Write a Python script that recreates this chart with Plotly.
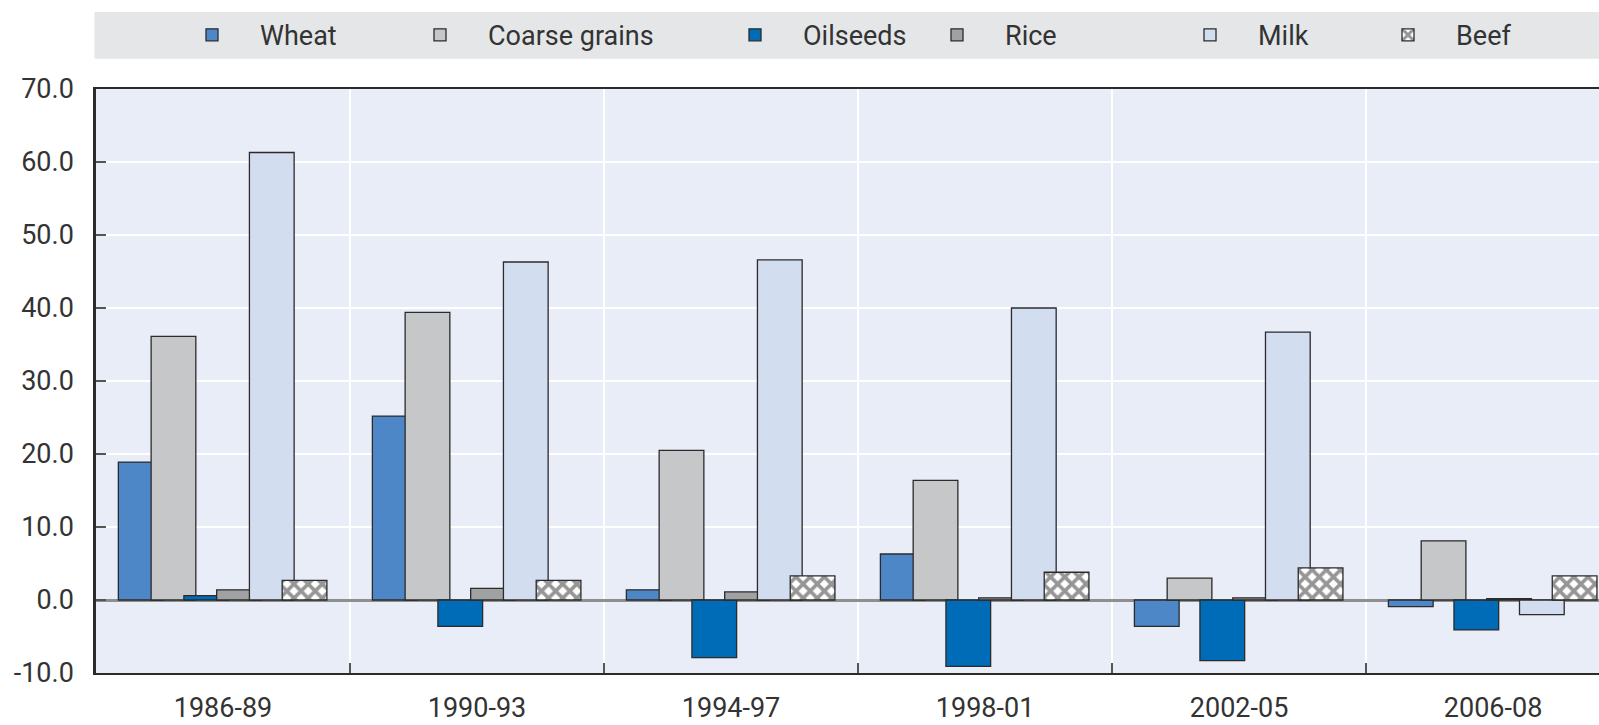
import plotly.graph_objects as go

periods = ["1986-89", "1990-93", "1994-97", "1998-01", "2002-05", "2006-08"]
wheat = [18.9, 25.2, 1.4, 6.3, -3.6, -0.9]
coarse_grains = [36.1, 39.4, 20.5, 16.4, 3.0, 8.1]
oilseeds = [0.6, -3.6, -7.9, -9.1, -8.3, -4.1]
rice = [1.4, 1.6, 1.1, 0.3, 0.3, 0.2]
milk = [61.3, 46.3, 46.6, 40.0, 36.7, -2.0]
beef = [2.7, 2.7, 3.3, 3.8, 4.4, 3.3]
y_ticks = [-10, 0, 10, 20, 30, 40, 50, 60, 70]
y_tick_labels = ["-10.0", "0.0", "10.0", "20.0", "30.0", "40.0", "50.0", "60.0", "70.0"]

series = [
    ("Wheat", wheat, "#4D87C7", None),
    ("Coarse grains", coarse_grains, "#C6C7C9", None),
    ("Oilseeds", oilseeds, "#006BB6", None),
    ("Rice", rice, "#A0A1A3", None),
    ("Milk", milk, "#D2DDEF", None),
    ("Beef", beef, "#FFFFFF", "x"),
]
# legend entry text starts (px) in the top band
legend_text_px = [260, 488, 803, 1005, 1258, 1456]

FONT = "Roboto, Liberation Sans, sans-serif"
FS = 27
ITEMW = 86
bar_w = 0.176
step = 0.129
start = -0.412
L, W = 96, 1503

fig = go.Figure()
layout_legends = {}
for i, (name, vals, color, shape) in enumerate(series):
    marker = dict(color=color, line=dict(color="#2b2b2b", width=1.3))
    if shape:
        marker["pattern"] = dict(shape=shape, fgcolor="#2e2e2e", bgcolor="#FFFFFF",
                                 size=10, solidity=0.6, fillmode="overlay")
    lg = "legend" if i == 0 else f"legend{i+1}"
    fig.add_trace(go.Bar(
        name=name, x=periods, y=vals, marker=marker,
        width=bar_w, offset=start + i * step, legend=lg,
    ))
    layout_legends[lg] = dict(
        orientation="h", x=(legend_text_px[i] - ITEMW - 10 - L) / W, xanchor="left",
        y=1.092, yanchor="middle", bgcolor="rgba(0,0,0,0)",
        font=dict(family=FONT, size=FS, color="#333333"), itemwidth=ITEMW,
    )

fig.add_shape(type="rect", xref="paper", yref="paper",
              x0=-0.001, x1=1.0, y0=1.052, y1=1.132,
              fillcolor="#E5E6E8", line=dict(width=0), layer="below")

fig.update_layout(
    barmode="overlay",
    width=1599, height=725,
    margin=dict(l=L, r=0, t=89, b=52, autoexpand=False),
    paper_bgcolor="white",
    plot_bgcolor="#E9EDF7",
    font=dict(family=FONT, size=FS, color="#333333"),
    showlegend=True,
    xaxis=dict(
        type="category", range=[-0.5, 5.417],
        tickson="boundaries", ticks="inside", ticklen=10, tickwidth=1.5, tickcolor="#555555",
        showgrid=True, gridcolor="white", gridwidth=1.5,
        showline=True, linecolor="#2b2b2b", linewidth=2, mirror=True,
        ticklabelstandoff=10,
        tickfont=dict(family=FONT, size=FS, color="#333333"),
    ),
    yaxis=dict(
        range=[-10, 70], tickvals=y_ticks, ticktext=y_tick_labels,
        ticks="inside", ticklen=10, tickwidth=1.5, tickcolor="#555555",
        showgrid=True, gridcolor="white", gridwidth=2,
        zeroline=True, zerolinecolor="#8F8F8F", zerolinewidth=2.5,
        showline=True, linecolor="#2b2b2b", linewidth=2.5,
        ticklabelstandoff=14,
        tickfont=dict(family=FONT, size=FS, color="#333333"),
    ),
    **layout_legends,
)

fig.write_html(
    "out.html",
    config={"displayModeBar": False},
    post_script="document.body.style.margin='0';document.body.style.overflow='hidden';",
)
